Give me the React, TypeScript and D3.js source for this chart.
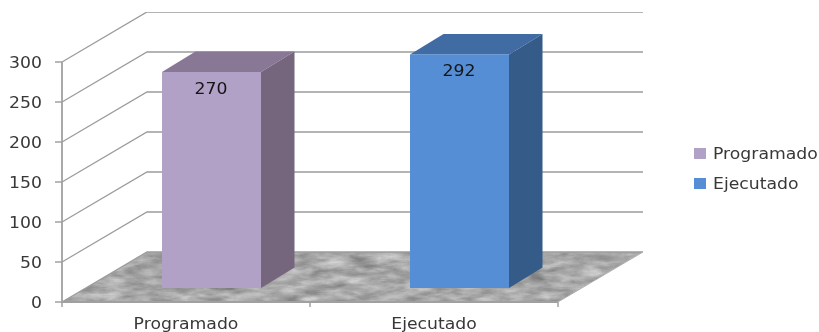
import React from "react";
import * as d3 from "d3";

const categories = ["Programado", "Ejecutado"];
const values = [270, 292];
const yTicks = [0, 50, 100, 150, 200, 250, 300];
const frontColors = ["#b2a1c7", "#558ed5"];
const topColors = ["#887896", "#3f6ca3"];
const sideColors = ["#75667e", "#355b88"];

const W = 819;
const H = 332;
const FONT = "'DejaVu Sans', sans-serif";
const AXIS = "#a0a0a0";
const TEXT = "#383838";
const STRETCH = 1.15;

function Label(props: {
  x: number;
  y: number;
  anchor: "start" | "middle" | "end";
  size: number;
  fill: string;
  children: React.ReactNode;
}) {
  return (
    <text
      transform={`translate(${props.x},${props.y}) scale(${STRETCH},1)`}
      textAnchor={props.anchor}
      fontFamily={FONT}
      fontSize={props.size}
      fill={props.fill}
    >
      {props.children}
    </text>
  );
}

export default function App() {
  const y = d3.scaleLinear().domain([0, 300]).range([302, 62]);
  const x = d3.scaleBand<string>().domain(categories).range([62, 558]);
  const dxWall = 85;
  const dyWall = 50;
  const barDx = 33.5;
  const barDy = 20.5;
  const barFrontY = 14;
  const barW = 99;
  const line = d3.line();
  const poly = (pts: [number, number][]) => line(pts) + "Z";

  return (
    <svg
      width={W}
      height={H}
      viewBox={`0 0 ${W} ${H}`}
      style={{ position: "absolute", left: 0, top: 0, background: "#fff" }}
    >
      <defs>
        <filter id="marble" x="0" y="0" width="100%" height="100%" colorInterpolationFilters="sRGB">
          <feTurbulence type="fractalNoise" baseFrequency="0.04 0.13" numOctaves={5} seed={11} />
          <feColorMatrix
            type="matrix"
            values="0.5 0.5 0 0 0  0.5 0.5 0 0 0  0.5 0.5 0 0 0  0 0 0 0 1"
          />
          <feComponentTransfer>
            <feFuncR type="linear" slope="0.6" intercept="0.36" />
            <feFuncG type="linear" slope="0.6" intercept="0.36" />
            <feFuncB type="linear" slope="0.6" intercept="0.36" />
          </feComponentTransfer>
        </filter>
        <filter id="soft" x="0" y="0" width="100%" height="100%">
          <feGaussianBlur stdDeviation="0.35" />
        </filter>
        <clipPath id="floorClip">
          <path
            d={poly([
              [62, y(0)],
              [62 + dxWall, y(0) - dyWall],
              [558 + dxWall, y(0) - dyWall],
              [558, y(0)],
            ])}
          />
        </clipPath>
      </defs>

      <g filter="url(#soft)">
        <g clipPath="url(#floorClip)">
          <rect x={60} y={250} width={590} height={54} filter="url(#marble)" />
        </g>

        {yTicks.map((t) => (
          <path
            key={t}
            d={
              line([
                [62, y(t)],
                [62 + dxWall, y(t) - dyWall],
                [558 + dxWall, y(t) - dyWall],
              ]) as string
            }
            fill="none"
            stroke="#9c9c9c"
            strokeWidth={1.3}
          />
        ))}

        {/* axes */}
        <path d={`M62,${y(300)}V${y(0)}H558`} fill="none" stroke={AXIS} strokeWidth={1.8} />
        <path d={line([[558, y(0)], [558 + dxWall, y(0) - dyWall]]) as string} stroke="#b4b4b4" strokeWidth={1} />
        {yTicks.map((t) => (
          <line key={t} x1={55} x2={62} y1={y(t)} y2={y(t)} stroke={AXIS} strokeWidth={1.5} />
        ))}
        {[62, ...categories.map((c) => (x(c) as number) + x.bandwidth())].map((px) => (
          <line key={px} x1={px} x2={px} y1={y(0)} y2={307} stroke={AXIS} strokeWidth={1.5} />
        ))}

        {/* bars */}
        {categories.map((c, i) => {
          const cx = (x(c) as number) + x.bandwidth() / 2 + 25.5;
          const l = cx - barW / 2;
          const r = cx + barW / 2;
          const b = y(0) - barFrontY;
          const t = b - (y(0) - y(values[i]));
          return (
            <g key={c}>
              <path
                d={poly([
                  [l, t],
                  [l + barDx, t - barDy],
                  [r + barDx, t - barDy],
                  [r, t],
                ])}
                fill={topColors[i]}
              />
              <path
                d={poly([
                  [r, t],
                  [r + barDx, t - barDy],
                  [r + barDx, b - barDy],
                  [r, b],
                ])}
                fill={sideColors[i]}
              />
              <rect x={l} y={t} width={barW} height={b - t} fill={frontColors[i]} />
              <Label x={cx - 0.5} y={t + 21.5} anchor="middle" size={15} fill="#141414">
                {values[i]}
              </Label>
            </g>
          );
        })}

        {/* y labels */}
        {yTicks.map((t) => (
          <Label key={t} x={42} y={y(t) + 6} anchor="end" size={15} fill={TEXT}>
            {t}
          </Label>
        ))}

        {/* x labels */}
        {categories.map((c) => (
          <Label key={c} x={(x(c) as number) + x.bandwidth() / 2} y={329} anchor="middle" size={15} fill={TEXT}>
            {c}
          </Label>
        ))}

        {/* legend */}
        {categories.map((c, i) => (
          <g key={c}>
            <rect x={694} y={148 + i * 30} width={12} height={11} fill={frontColors[i]} />
            <Label x={713} y={158.5 + i * 30} anchor="start" size={15} fill={TEXT}>
              {c}
            </Label>
          </g>
        ))}
      </g>
    </svg>
  );
}
